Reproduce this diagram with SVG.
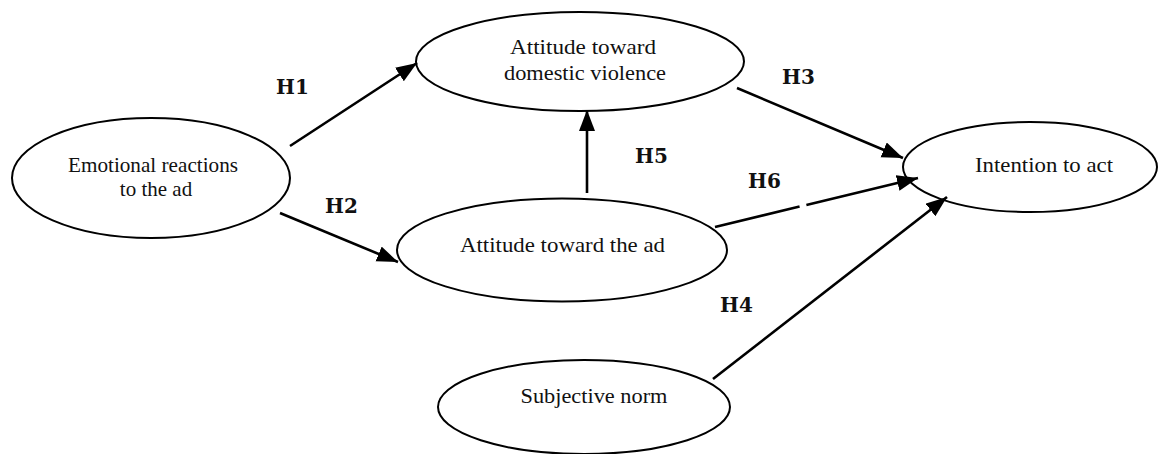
<svg xmlns="http://www.w3.org/2000/svg" width="1160" height="454" viewBox="0 0 1160 454">
<style>
.node ellipse{fill:#fff;stroke:#000;stroke-width:2}
.tnr{font-family:"Liberation Serif","Times New Roman",serif;font-size:21px;fill:#111;text-anchor:middle}
.cam{font-family:"Liberation Serif","Times New Roman",serif;font-size:21px;fill:#111;text-anchor:middle}
.hl{font-family:"DejaVu Serif","Liberation Serif",serif;font-weight:bold;font-size:20px;fill:#111}
.edge{stroke:#000;stroke-width:2.6;fill:none;marker-end:url(#ah)}
</style>
<defs>
<marker id="ah" markerUnits="userSpaceOnUse" markerWidth="23" markerHeight="17" refX="21" refY="8" orient="auto">
<path d="M0,0 L21,8 L0,16 Z" fill="#000"/>
</marker>
</defs>
<rect width="1160" height="454" fill="#fff"/>
<g id="n-emotional" class="node">
<ellipse cx="151" cy="178" rx="139" ry="60"/>
<text class="tnr" x="153" y="172" textLength="170" lengthAdjust="spacingAndGlyphs">Emotional reactions</text>
<text class="tnr" x="156" y="196">to the ad</text>
</g>
<g id="n-domestic" class="node">
<ellipse cx="580" cy="61.5" rx="164" ry="49.5"/>
<text class="cam" x="583" y="54" textLength="146" lengthAdjust="spacingAndGlyphs">Attitude toward</text>
<text class="cam" x="585" y="80" textLength="162" lengthAdjust="spacingAndGlyphs">domestic violence</text>
</g>
<g id="n-adattitude" class="node">
<ellipse cx="562" cy="250" rx="165" ry="51.5"/>
<text class="cam" x="562.5" y="252" textLength="205" lengthAdjust="spacingAndGlyphs">Attitude toward the ad</text>
</g>
<g id="n-intention" class="node">
<ellipse cx="1030" cy="167" rx="127" ry="45"/>
<text class="cam" x="1044" y="172" textLength="138" lengthAdjust="spacingAndGlyphs">Intention to act</text>
</g>
<g id="n-subjective" class="node">
<ellipse cx="584" cy="407" rx="146" ry="47"/>
<text class="cam" x="594" y="403" textLength="147" lengthAdjust="spacingAndGlyphs">Subjective norm</text>
</g>
<g id="connectors">
<line class="edge" x1="290" y1="146" x2="417" y2="63"/>
<line class="edge" x1="280" y1="213" x2="398" y2="262"/>
<line class="edge" x1="737" y1="88" x2="903" y2="158"/>
<line class="edge" x1="587" y1="193" x2="587" y2="110"/>
<line class="edge" x1="715" y1="227" x2="918" y2="178" stroke-dasharray="87 7 300"/>
<line class="edge" x1="713" y1="379" x2="947" y2="197"/>
</g>
<g id="labels">
<text class="hl" x="276" y="94">H1</text>
<text class="hl" x="325" y="213">H2</text>
<text class="hl" x="782" y="84">H3</text>
<text class="hl" x="720" y="312">H4</text>
<text class="hl" x="635" y="163">H5</text>
<text class="hl" x="748" y="188">H6</text>
</g>
</svg>
